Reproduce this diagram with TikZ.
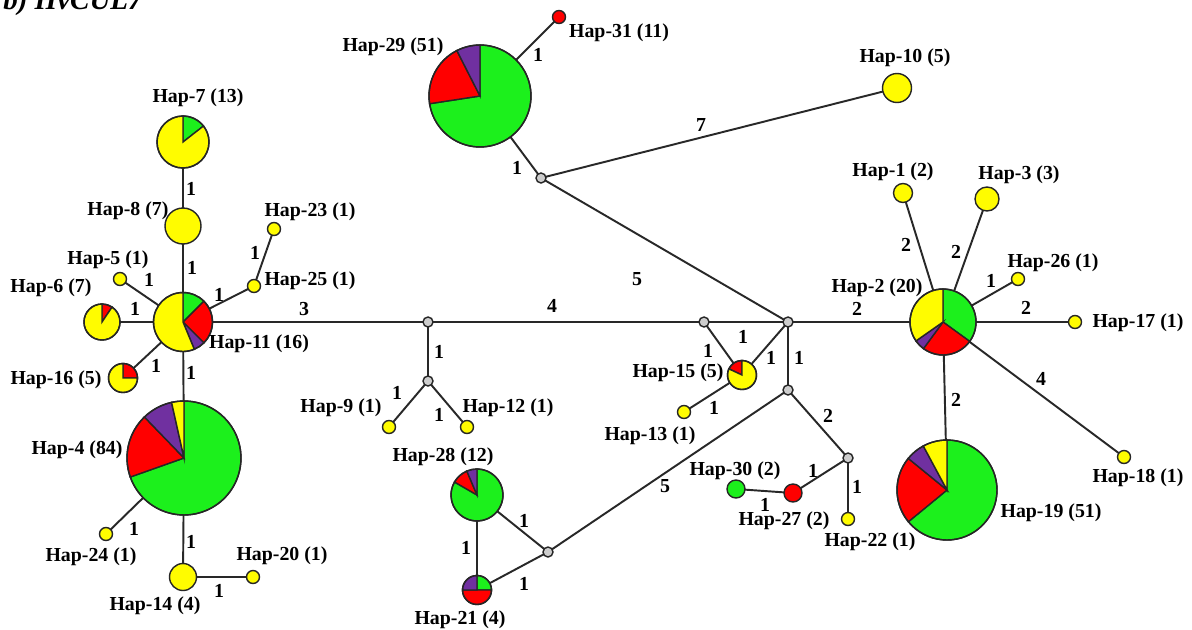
\documentclass[tikz,border=0pt]{standalone}
\usepackage{fontspec}
\setmainfont{Liberation Serif}
\definecolor{hgreen}{RGB}{28,240,28}
\definecolor{hyellow}{RGB}{255,252,0}
\definecolor{hred}{RGB}{255,0,0}
\definecolor{hpurple}{RGB}{112,48,160}
\definecolor{jgray}{RGB}{205,205,205}
\definecolor{linegray}{RGB}{40,40,40}

\tikzset{
  link/.style={draw=linegray, line width=1.1pt},
  pieline/.style={draw=black!85, line width=0.8pt},
  hlabel/.style={font=\bfseries\fontsize{11.3}{13}\selectfont, inner sep=0pt},
  mutlabel/.style={font=\bfseries\fontsize{11.3}{13}\selectfont, inner sep=0pt},
}

% pie chart: centre, radius, list of startangle/endangle/colour
\newcommand\hpie[3]{%
  \foreach \pa/\pb/\pc in {#3}{%
    \filldraw[pieline, fill=\pc] (#1) -- ++(\pa:#2) arc[start angle=\pa, end angle=\pb, radius=#2] -- cycle;}%
  \draw[pieline] (#1) circle[radius=#2];}
% single-coloured circle: centre, radius, colour
\newcommand\hdot[3]{\filldraw[pieline, fill=#3] (#1) circle[radius=#2];}

\begin{document}
\begin{tikzpicture}[x=0.02cm, y=0.02cm]
\useasboundingbox (0,0) rectangle (1192,-629);
\fill[white] (0,0) rectangle (1192,-629);

% title
\node[anchor=base west, inner sep=0pt, font=\bfseries\itshape\fontsize{16.5}{18}\selectfont] (title) at (3,-9) {b) HvCUL7};

% haplotype centres
\coordinate (h1)  at (903,-193);
\coordinate (h2)  at (943,-322);
\coordinate (h3)  at (987,-199);
\coordinate (h4)  at (184,-458);
\coordinate (h5)  at (120,-279);
\coordinate (h6)  at (102,-322);
\coordinate (h7)  at (183,-142);
\coordinate (h8)  at (183,-226);
\coordinate (h9)  at (389,-427);
\coordinate (h10) at (897,-88);
\coordinate (h11) at (183,-322);
\coordinate (h12) at (467,-427);
\coordinate (h13) at (684,-412);
\coordinate (h14) at (183,-577);
\coordinate (h15) at (742,-375);
\coordinate (h16) at (123,-378);
\coordinate (h17) at (1075,-322);
\coordinate (h18) at (1124,-457);
\coordinate (h19) at (947,-490);
\coordinate (h20) at (253,-577);
\coordinate (h21) at (477,-590);
\coordinate (h22) at (848,-519);
\coordinate (h23) at (274,-229);
\coordinate (h24) at (106,-534);
\coordinate (h25) at (254,-286);
\coordinate (h26) at (1018,-279);
\coordinate (h27) at (793,-493);
\coordinate (h28) at (477,-495);
\coordinate (h29) at (480,-96);
\coordinate (h30) at (736,-489);
\coordinate (h31) at (559,-17);
% median vectors
\coordinate (j1) at (428,-322);
\coordinate (j2) at (428,-381);
\coordinate (j3) at (704,-322);
\coordinate (j4) at (788,-322);
\coordinate (j5) at (788,-390);
\coordinate (j6) at (848,-458);
\coordinate (j7) at (548,-552);
\coordinate (j8) at (541,-178);

% links
\foreach \u/\v in {h7/h8, h8/h11, h5/h11, h6/h11, h16/h11, h11/h4, h11/h25, h25/h23,
  h11/j1, j1/j3, j1/j2, j2/h9, j2/h12, j3/h15, j3/j4, h15/j4, h15/h13, j4/j5, j4/j8,
  j8/h29, h29/h31, j8/h10, j4/h2, h2/h1, h2/h3, h2/h26, h2/h17, h2/h18, h2/h19,
  j5/j6, j6/h27, j6/h22, h30/h27, j5/j7, j7/h28, j7/h21, h28/h21, h4/h24, h4/h14, h14/h20}
  {\draw[link] (\u) -- (\v);}

% mutation counts
\node[mutlabel] (m1)  at (191,-189) {1};
\node[mutlabel] (m2)  at (192,-268) {1};
\node[mutlabel] (m3)  at (149,-280) {1};
\node[mutlabel] (m4)  at (135,-309) {1};
\node[mutlabel] (m5)  at (156,-366) {1};
\node[mutlabel] (m6)  at (191,-373) {1};
\node[mutlabel] (m7)  at (219,-295) {1};
\node[mutlabel] (m8)  at (255,-253) {1};
\node[mutlabel] (m9)  at (304,-309) {3};
\node[mutlabel] (m10) at (552,-306) {4};
\node[mutlabel] (m11) at (439,-352) {1};
\node[mutlabel] (m12) at (397,-393) {1};
\node[mutlabel] (m13) at (439,-415) {1};
\node[mutlabel] (m14) at (708,-351) {1};
\node[mutlabel] (m15) at (743,-337) {1};
\node[mutlabel] (m16) at (771,-358) {1};
\node[mutlabel] (m17) at (714,-408) {1};
\node[mutlabel] (m18) at (799,-358) {1};
\node[mutlabel] (m19) at (637,-279) {5};
\node[mutlabel] (m20) at (517,-168) {1};
\node[mutlabel] (m21) at (538,-55)  {1};
\node[mutlabel] (m22) at (701,-125) {7};
\node[mutlabel] (m23) at (857,-309) {2};
\node[mutlabel] (m24) at (906,-245) {2};
\node[mutlabel] (m25) at (956,-252) {2};
\node[mutlabel] (m26) at (991,-281) {1};
\node[mutlabel] (m27) at (1026,-308) {2};
\node[mutlabel] (m28) at (1041,-379) {4};
\node[mutlabel] (m29) at (956,-400) {2};
\node[mutlabel] (m30) at (828,-416) {2};
\node[mutlabel] (m31) at (813,-471) {1};
\node[mutlabel] (m32) at (857,-487) {1};
\node[mutlabel] (m33) at (765,-505) {1};
\node[mutlabel] (m34) at (665,-486) {5};
\node[mutlabel] (m35) at (524,-521) {1};
\node[mutlabel] (m36) at (524,-584) {1};
\node[mutlabel] (m37) at (466,-548) {1};
\node[mutlabel] (m38) at (134,-529) {1};
\node[mutlabel] (m39) at (191,-542) {1};
\node[mutlabel] (m40) at (219,-591) {1};

% median vectors
\foreach \j in {j1,j2,j3,j4,j5,j6,j7,j8} {\hdot{\j}{5}{jgray}}

% haplotypes
\hpie{h7}{26}{38/90/hgreen, 90/398/hyellow}
\hdot{h8}{18}{hyellow}
\hpie{h11}{29.5}{45/90/hgreen, -45/45/hred, -67.5/-45/hpurple, 90/292.5/hyellow}
\hpie{h6}{18}{56/90/hred, 90/416/hyellow}
\hpie{h16}{14.5}{0/90/hred, 90/360/hyellow}
\hpie{h4}{57}{-160.5/90/hgreen, 134/199.5/hred, 102.6/134/hpurple, 90/102.6/hyellow}
\hpie{h29}{51}{-171.3/90/hgreen, 117/188.7/hred, 90/117/hpurple}
\hpie{h2}{33}{-36/90/hgreen, -126.3/-36/hred, -145/-126.3/hpurple, 90/215/hyellow}
\hpie{h19}{50}{-140.6/90/hgreen, 140.8/219.4/hred, 118.3/140.8/hpurple, 90/118.3/hyellow}
\hpie{h28}{26}{150/450/hgreen, 113/150/hred, 90/113/hpurple}
\hpie{h21}{14.5}{0/90/hgreen, 180/360/hred, 90/180/hpurple}
\hpie{h15}{14.5}{90/155/hred, 155/450/hyellow}
\hdot{h1}{9.5}{hyellow}
\hdot{h3}{12}{hyellow}
\hdot{h10}{14.5}{hyellow}
\hdot{h14}{13.5}{hyellow}
\hdot{h30}{9}{hgreen}
\hdot{h27}{9}{hred}
\hdot{h31}{6.5}{hred}
\foreach \h in {h5,h9,h12,h13,h17,h18,h20,h22,h23,h24,h25,h26} {\hdot{\h}{6.5}{hyellow}}

% haplotype labels
\node[hlabel] (l1)  at (893,-172) {Hap-1 (2)};
\node[hlabel] (l2)  at (877,-288) {Hap-2 (20)};
\node[hlabel] (l3)  at (1019,-175) {Hap-3 (3)};
\node[hlabel] (l4)  at (77,-450)  {Hap-4 (84)};
\node[hlabel] (l5)  at (108,-260) {Hap-5 (1)};
\node[hlabel] (l6)  at (51,-288)  {Hap-6 (7)};
\node[hlabel] (l7)  at (198,-98)  {Hap-7 (13)};
\node[hlabel] (l8)  at (128,-211) {Hap-8 (7)};
\node[hlabel] (l9)  at (341,-408) {Hap-9 (1)};
\node[hlabel] (l10) at (905,-58)  {Hap-10 (5)};
\node[hlabel] (l11) at (259,-344) {Hap-11 (16)};
\node[hlabel] (l12) at (508,-408) {Hap-12 (1)};
\node[hlabel] (l13) at (650,-436) {Hap-13 (1)};
\node[hlabel] (l14) at (155,-606) {Hap-14 (4)};
\node[hlabel] (l15) at (678,-373) {Hap-15 (5)};
\node[hlabel] (l16) at (56,-380)  {Hap-16 (5)};
\node[hlabel] (l17) at (1138,-323) {Hap-17 (1)};
\node[hlabel] (l18) at (1138,-478) {Hap-18 (1)};
\node[hlabel] (l19) at (1051,-513) {Hap-19 (51)};
\node[hlabel] (l20) at (282,-556) {Hap-20 (1)};
\node[hlabel] (l21) at (460,-620) {Hap-21 (4)};
\node[hlabel] (l22) at (870,-542) {Hap-22 (1)};
\node[hlabel] (l23) at (310,-212) {Hap-23 (1)};
\node[hlabel] (l24) at (91,-557)  {Hap-24 (1)};
\node[hlabel] (l25) at (310,-281) {Hap-25 (1)};
\node[hlabel] (l26) at (1053,-263) {Hap-26 (1)};
\node[hlabel] (l27) at (784,-521) {Hap-27 (2)};
\node[hlabel] (l28) at (443,-457) {Hap-28 (12)};
\node[hlabel] (l29) at (393,-47)  {Hap-29 (51)};
\node[hlabel] (l30) at (735,-471) {Hap-30 (2)};
\node[hlabel] (l31) at (619,-33)  {Hap-31 (11)};
\end{tikzpicture}
\end{document}
